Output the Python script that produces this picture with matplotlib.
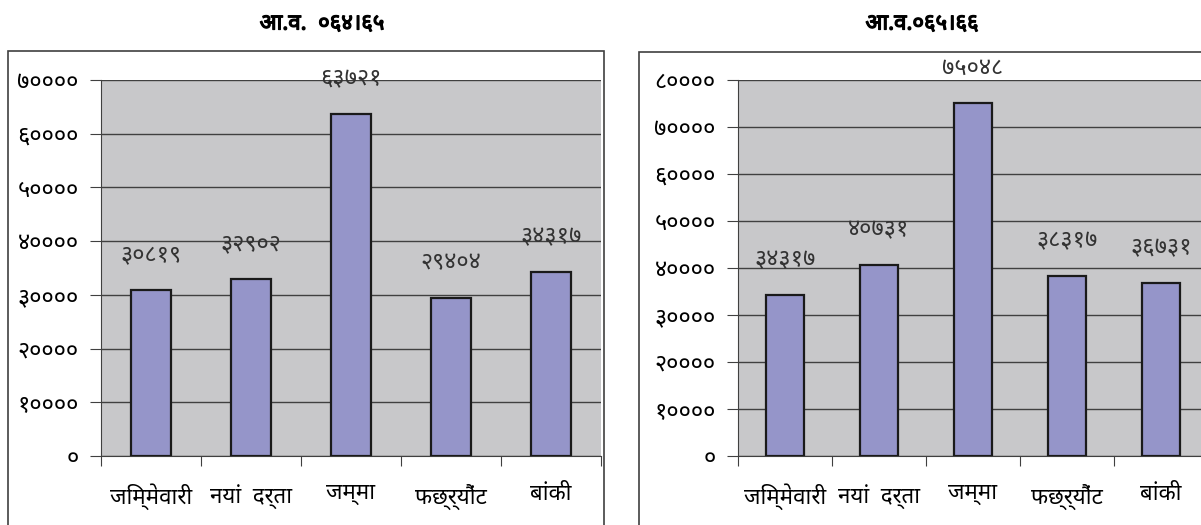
import matplotlib
matplotlib.use("Agg")
import matplotlib.pyplot as plt
import matplotlib.patheffects as pe
from matplotlib import font_manager as fm

# data
categories = ["जिम्मेवारी", "नयां  दर्ता", "जम्मा", "फछ्र्यौंट", "बांकी"]
values_6465 = [30819, 32902, 63721, 29404, 34317]
values_6566 = [34317, 40731, 75048, 38317, 36731]
labels_6465 = ["३०८१९", "३२९०२", "६३७२१", "२९४०४", "३४३१७"]
labels_6566 = ["३४३१७", "४०७३१", "७५०४८", "३८३१७", "३६७३१"]
title_6465 = "आ.व.  ०६४।६५"
title_6566 = "आ.व.०६५।६६"
yticks_6465 = [0, 10000, 20000, 30000, 40000, 50000, 60000, 70000]
yticks_6566 = [0, 10000, 20000, 30000, 40000, 50000, 60000, 70000, 80000]
dev_digits = "०१२३४५६७८९"

def to_dev(n):
    return "".join(dev_digits[int(c)] for c in str(n))

# pick a font that has devanagari glyphs
avail = set(f.name for f in fm.fontManager.ttflist)
devFont = None
for name in ["Noto Sans Devanagari", "Hind", "Mukta", "Poppins", "Akshar"]:
    if name in avail:
        devFont = name
        break
plt.rcParams['font.family'] = [devFont, "DejaVu Sans"] if devFont else ["DejaVu Sans"]

figureWidth = 12.01
figureHeight = 5.25
fig = plt.figure(figsize=(figureWidth, figureHeight), dpi=100)

W = 1201.0
H = 525.0
barColor = "#9595c9"
bgColor = "#c8c8ca"

def draw_chart(frame, plotBox, titleX, title, values, labels, yticks, ymax):
    # chart area border
    fx, fy, fw, fh = frame
    border = plt.Rectangle((fx / W, 1 - (fy + fh) / H), fw / W, fh / H,
                           transform=fig.transFigure, fill=False,
                           edgecolor="#404040", linewidth=1.2)
    fig.patches.append(border)
    t = fig.text(titleX / W, 1 - 24 / H, title, ha="center", va="center",
                 fontsize=16, fontweight="bold")
    t.set_path_effects([pe.withStroke(linewidth=0.9, foreground="black")])

    # plot area
    px, py, pw, ph = plotBox
    ax = fig.add_axes([px / W, 1 - (py + ph) / H, pw / W, ph / H])
    ax.set_facecolor(bgColor)
    x = range(len(values))
    ax.bar(x, values, width=0.4, color=barColor, edgecolor="#1a1a1a",
           linewidth=1.6, zorder=3)
    ax.set_xlim(-0.5, len(values) - 0.5)
    ax.set_ylim(0, ymax)
    ax.set_yticks(yticks)
    ax.set_yticklabels([to_dev(t) for t in yticks], fontsize=17)
    ax.yaxis.grid(True, color="#404040", linewidth=1.0, zorder=1)
    ax.set_axisbelow(True)
    ax.set_xticks([i + 0.5 for i in range(-1, len(values))])
    ax.set_xticklabels([])
    ax.set_xticks(list(x), minor=True)
    ax.set_xticklabels(categories, minor=True, fontsize=16)
    ax.tick_params(axis="x", which="minor", length=0, pad=20)
    ax.tick_params(axis="x", which="major", length=7, color="#404040")
    ax.tick_params(axis="y", length=8, color="#404040", pad=8)
    for s in ["top", "right"]:
        ax.spines[s].set_visible(False)
    for s in ["left", "bottom"]:
        ax.spines[s].set_color("#404040")
    for i, v in enumerate(values):
        ax.annotate(labels[i], (i, v), xytext=(0, 25), textcoords="offset points",
                    ha="center", va="center", fontsize=17, color="#333333")
    return ax

draw_chart((8, 51, 596, 480), (101, 80, 500, 376), 322, title_6465,
           values_6465, labels_6465, yticks_6465, 70000)
draw_chart((639, 52, 600, 480), (738, 80, 470, 376), 922, title_6566,
           values_6566, labels_6566, yticks_6566, 80000)

fig.savefig("out.png", dpi=100)
